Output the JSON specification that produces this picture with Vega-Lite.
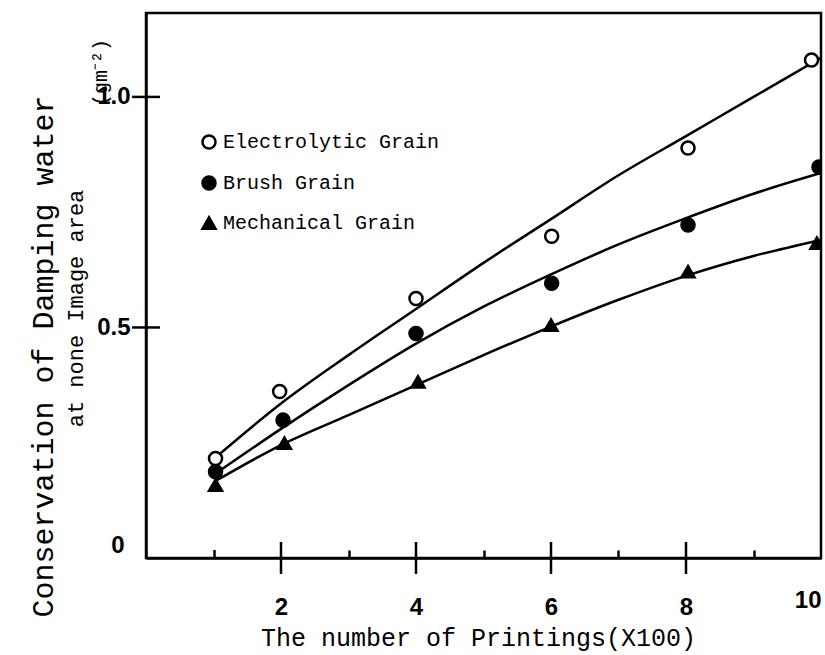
{
  "$schema": "https://vega.github.io/schema/vega-lite/v6.json",
  "width": 675,
  "height": 545,
  "autosize": "none",
  "padding": {"left": 146, "top": 13, "right": 4, "bottom": 97},
  "background": "white",
  "config": {
    "view": {"stroke": "black", "strokeWidth": 2.5},
    "axis": {"grid": false},
    "legend": {"symbolSize": 170, "symbolStrokeWidth": 2.5}
  },
  "datasets": {
    "curves": [
      {"series": "Electrolytic Grain", "x": 1.03, "y": 0.218},
      {"series": "Electrolytic Grain", "x": 2, "y": 0.335},
      {"series": "Electrolytic Grain", "x": 3, "y": 0.44},
      {"series": "Electrolytic Grain", "x": 4, "y": 0.54},
      {"series": "Electrolytic Grain", "x": 5, "y": 0.64},
      {"series": "Electrolytic Grain", "x": 6, "y": 0.735},
      {"series": "Electrolytic Grain", "x": 7, "y": 0.83},
      {"series": "Electrolytic Grain", "x": 8, "y": 0.915},
      {"series": "Electrolytic Grain", "x": 9, "y": 1.0},
      {"series": "Electrolytic Grain", "x": 10, "y": 1.085},
      {"series": "Brush Grain", "x": 1.03, "y": 0.183},
      {"series": "Brush Grain", "x": 2, "y": 0.28},
      {"series": "Brush Grain", "x": 3, "y": 0.375},
      {"series": "Brush Grain", "x": 4, "y": 0.465},
      {"series": "Brush Grain", "x": 5, "y": 0.545},
      {"series": "Brush Grain", "x": 6, "y": 0.615},
      {"series": "Brush Grain", "x": 7, "y": 0.68},
      {"series": "Brush Grain", "x": 8, "y": 0.737},
      {"series": "Brush Grain", "x": 9, "y": 0.79},
      {"series": "Brush Grain", "x": 10, "y": 0.835},
      {"series": "Mechanical Grain", "x": 1.03, "y": 0.167},
      {"series": "Mechanical Grain", "x": 2, "y": 0.245},
      {"series": "Mechanical Grain", "x": 3, "y": 0.31},
      {"series": "Mechanical Grain", "x": 4, "y": 0.375},
      {"series": "Mechanical Grain", "x": 5, "y": 0.44},
      {"series": "Mechanical Grain", "x": 6, "y": 0.502},
      {"series": "Mechanical Grain", "x": 7, "y": 0.56},
      {"series": "Mechanical Grain", "x": 8, "y": 0.612},
      {"series": "Mechanical Grain", "x": 9, "y": 0.655},
      {"series": "Mechanical Grain", "x": 10, "y": 0.69}
    ],
    "points": [
      {"series": "Electrolytic Grain", "x": 1.03, "y": 0.216},
      {"series": "Electrolytic Grain", "x": 1.98, "y": 0.361},
      {"series": "Electrolytic Grain", "x": 4.0, "y": 0.563},
      {"series": "Electrolytic Grain", "x": 6.01, "y": 0.698},
      {"series": "Electrolytic Grain", "x": 8.03, "y": 0.889},
      {"series": "Electrolytic Grain", "x": 9.86, "y": 1.08},
      {"series": "Brush Grain", "x": 1.03, "y": 0.187},
      {"series": "Brush Grain", "x": 2.03, "y": 0.299},
      {"series": "Brush Grain", "x": 4.0, "y": 0.487},
      {"series": "Brush Grain", "x": 6.01, "y": 0.596},
      {"series": "Brush Grain", "x": 8.03, "y": 0.722},
      {"series": "Brush Grain", "x": 9.97, "y": 0.848},
      {"series": "Mechanical Grain", "x": 1.03, "y": 0.158},
      {"series": "Mechanical Grain", "x": 2.05, "y": 0.249},
      {"series": "Mechanical Grain", "x": 4.03, "y": 0.382},
      {"series": "Mechanical Grain", "x": 6.0, "y": 0.505},
      {"series": "Mechanical Grain", "x": 8.03, "y": 0.621},
      {"series": "Mechanical Grain", "x": 9.94, "y": 0.683}
    ],
    "xticks": [
      {"x": 2, "y": 0},
      {"x": 4, "y": 0},
      {"x": 6, "y": 0},
      {"x": 8, "y": 0}
    ],
    "yticks": [
      {"x": 0, "y": 0.5},
      {"x": 0, "y": 1.0}
    ]
  },
  "resolve": {"axis": {"x": "independent", "y": "independent"}},
  "layer": [
    {
      "data": {"name": "curves"},
      "mark": {"type": "line", "interpolate": "monotone", "stroke": "black", "strokeWidth": 2.5, "clip": true},
      "encoding": {
        "x": {
          "field": "x", "type": "quantitative",
          "scale": {"domain": [0, 10], "nice": false, "zero": false},
          "axis": {
            "orient": "bottom",
            "values": [2, 4, 6, 8],
            "ticks": true,
            "tickSize": 14,
            "tickOpacity": 0,
            "domainColor": "black",
            "domainWidth": 2.5,
            "labelFont": "Liberation Sans",
            "labelFontWeight": "bold",
            "labelFontSize": 24,
            "labelColor": "black",
            "labelPadding": 23,
            "labelBaseline": "top",
            "labelFlush": false,
            "labelOverlap": false,
            "title": null
          }
        },
        "y": {
          "field": "y", "type": "quantitative",
          "scale": {"domain": [0, 1.182], "nice": false},
          "axis": {
            "orient": "left",
            "values": [0.5, 1],
            "format": ".1f",
            "ticks": true,
            "tickSize": 12,
            "tickOpacity": 0,
            "domainColor": "black",
            "domainWidth": 2.5,
            "labelFont": "Liberation Sans",
            "labelFontWeight": "bold",
            "labelFontSize": 24,
            "labelColor": "black",
            "labelPadding": 4,
            "labelFlush": false,
            "labelOverlap": false,
            "title": null
          }
        },
        "detail": {"field": "series"}
      }
    },
    {
      "data": {"name": "xticks"},
      "mark": {"type": "tick", "orient": "vertical", "color": "black", "thickness": 2.5, "size": 32, "opacity": 1, "clip": false},
      "encoding": {
        "x": {"field": "x", "type": "quantitative", "axis": null},
        "y": {"field": "y", "type": "quantitative", "axis": null}
      }
    },
    {
      "data": {"name": "yticks"},
      "mark": {"type": "tick", "orient": "horizontal", "color": "black", "thickness": 2.5, "size": 28, "opacity": 1, "clip": false},
      "encoding": {
        "x": {"field": "x", "type": "quantitative", "axis": null},
        "y": {"field": "y", "type": "quantitative", "axis": null}
      }
    },
    {
      "data": {"name": "points"},
      "mark": {"type": "point", "filled": false, "strokeWidth": 2.5, "size": 170, "opacity": 1, "clip": true},
      "encoding": {
        "x": {
          "field": "x", "type": "quantitative",
          "axis": {
            "orient": "bottom",
            "values": [1, 3, 5, 7, 9],
            "tickSize": {"condition": {"test": "datum.value == 1", "value": -8.5}, "value": -8},
            "tickWidth": 2.5,
            "tickColor": "black",
            "labels": false,
            "domain": false,
            "title": null
          }
        },
        "y": {"field": "y", "type": "quantitative", "axis": null},
        "shape": {
          "field": "series", "type": "nominal",
          "scale": {"domain": ["Electrolytic Grain", "Brush Grain", "Mechanical Grain"], "range": ["circle", "circle", "triangle-up"]},
          "legend": {
            "orient": "none", "legendX": 53, "legendY": 119, "title": null, "padding": 0,
            "symbolSize": 170, "symbolStrokeWidth": 2.5,
            "labelFont": "Liberation Mono", "labelFontSize": 20, "labelColor": "black", "labelLimit": 400,
            "labelOffset": 4, "rowPadding": 17
          }
        },
        "fill": {
          "field": "series", "type": "nominal",
          "scale": {"domain": ["Electrolytic Grain", "Brush Grain", "Mechanical Grain"], "range": ["white", "black", "black"]},
          "legend": {
            "orient": "none", "legendX": 53, "legendY": 119, "title": null, "padding": 0,
            "symbolSize": 170, "symbolStrokeWidth": 2.5,
            "labelFont": "Liberation Mono", "labelFontSize": 20, "labelColor": "black", "labelLimit": 400,
            "labelOffset": 4, "rowPadding": 17
          }
        },
        "stroke": {
          "field": "series", "type": "nominal",
          "scale": {"domain": ["Electrolytic Grain", "Brush Grain", "Mechanical Grain"], "range": ["black", "black", "black"]},
          "legend": {
            "orient": "none", "legendX": 53, "legendY": 119, "title": null, "padding": 0,
            "symbolSize": 170, "symbolStrokeWidth": 2.5,
            "labelFont": "Liberation Mono", "labelFontSize": 20, "labelColor": "black", "labelLimit": 400,
            "labelOffset": 4, "rowPadding": 17
          }
        }
      }
    },
    {
      "data": {"name": "points"},
      "mark": {"type": "point", "opacity": 0},
      "encoding": {
        "x": {
          "field": "x", "type": "quantitative",
          "axis": {
            "orient": "bottom",
            "values": [10],
            "ticks": false,
            "tickSize": 0,
            "domain": false,
            "labelFont": "Liberation Sans",
            "labelFontWeight": "bold",
            "labelFontSize": 24,
            "labelColor": "black",
            "labelPadding": 30,
            "labelAlign": "right",
            "labelBaseline": "top",
            "labelFlush": false,
            "labelOverlap": false,
            "title": "The number of Printings(X100)",
            "titleFont": "Liberation Mono",
            "titleFontSize": 25,
            "titleFontWeight": "normal",
            "titleColor": "black",
            "titleX": 332,
            "titleY": 79,
            "titleAlign": "center",
            "titleBaseline": "middle"
          }
        },
        "y": {
          "field": "y", "type": "quantitative",
          "axis": {
            "orient": "left",
            "values": [0],
            "ticks": false,
            "tickSize": 0,
            "domain": false,
            "labelFont": "Liberation Sans",
            "labelFontWeight": "bold",
            "labelFontSize": 24,
            "labelColor": "black",
            "labelPadding": 22,
            "labelOffset": -13,
            "labelFlush": false,
            "labelOverlap": false,
            "title": "Conservation of Damping water",
            "titleFont": "Liberation Mono",
            "titleFontSize": 30,
            "titleFontWeight": "normal",
            "titleColor": "black",
            "titleX": -103,
            "titleY": 343,
            "titleAlign": "center",
            "titleBaseline": "middle"
          }
        }
      }
    },
    {
      "data": {"name": "points"},
      "mark": {"type": "point", "opacity": 0},
      "encoding": {
        "x": {
          "field": "x", "type": "quantitative",
          "axis": {
            "orient": "bottom",
            "values": [],
            "ticks": false,
            "labels": false,
            "domain": false,
            "title": "(gm⁻²)",
            "titleAngle": -90,
            "titleFont": "Liberation Mono",
            "titleFontSize": 20,
            "titleFontWeight": "normal",
            "titleColor": "black",
            "titleX": -46,
            "titleY": -486,
            "titleAlign": "center",
            "titleBaseline": "middle"
          }
        },
        "y": {
          "field": "y", "type": "quantitative",
          "axis": {
            "orient": "left",
            "values": [],
            "ticks": false,
            "labels": false,
            "domain": false,
            "title": "at none Image area",
            "titleFont": "Liberation Mono",
            "titleFontSize": 22,
            "titleFontWeight": "normal",
            "titleColor": "black",
            "titleX": -71,
            "titleY": 295,
            "titleAlign": "center",
            "titleBaseline": "middle"
          }
        }
      }
    }
  ]
}
